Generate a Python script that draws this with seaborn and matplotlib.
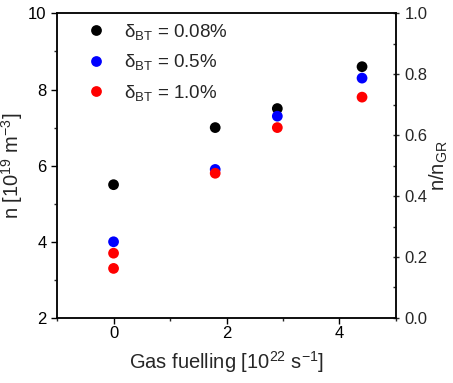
import matplotlib
matplotlib.use("Agg")
import matplotlib.pyplot as plt
import seaborn as sns
import pandas as pd
from matplotlib.ticker import MultipleLocator, FormatStrFormatter

sns.set_style("ticks")
plt.rcParams['font.family'] = ['Liberation Sans', 'DejaVu Sans']
plt.rcParams['mathtext.fontset'] = 'custom'
plt.rcParams['mathtext.rm'] = 'Liberation Sans'
plt.rcParams['mathtext.it'] = 'Liberation Sans:italic'
plt.rcParams['mathtext.bf'] = 'Liberation Sans:bold'

# Data
x_black = [0, 1.8, 2.9, 4.4]
n_black = [5.5, 7.0, 7.5, 8.6]
x_blue = [0, 1.8, 2.9, 4.4]
n_blue = [4.0, 5.9, 7.3, 8.3]
x_red = [0, 0, 1.8, 2.9, 4.4]
n_red = [3.7, 3.3, 5.8, 7.0, 7.8]

labels = ["δ$_{\\mathrm{BT}}$ = 0.08%", "δ$_{\\mathrm{BT}}$ = 0.5%", "δ$_{\\mathrm{BT}}$ = 1.0%"]
colors = ["#000000", "#0000ff", "#ff0000"]

df = pd.concat([
    pd.DataFrame({"x": x_black, "n": n_black, "series": labels[0]}),
    pd.DataFrame({"x": x_blue, "n": n_blue, "series": labels[1]}),
    pd.DataFrame({"x": x_red, "n": n_red, "series": labels[2]}),
], ignore_index=True)

fig = plt.figure(figsize=(4.53, 3.83), dpi=100)
ax = fig.add_axes([0.126, 0.170, 0.748, 0.795])

sns.scatterplot(data=df, x="x", y="n", hue="series", hue_order=labels,
                palette=dict(zip(labels, colors)), s=60, edgecolor="none",
                ax=ax, legend=True, zorder=3)

ax.set_xlim(-1, 5)
ax.set_ylim(2, 10)
ax.xaxis.set_major_locator(MultipleLocator(2))
ax.xaxis.set_minor_locator(MultipleLocator(1))
ax.yaxis.set_major_locator(MultipleLocator(2))
ax.yaxis.set_minor_locator(MultipleLocator(1))
ax.tick_params(which='major', direction='out', length=4, width=1, labelsize=12, colors='black')
ax.tick_params(which='minor', direction='out', length=2.5, width=1)
ax.tick_params(axis='x', pad=2)
for sp in ax.spines.values():
    sp.set_linewidth(1.1)
    sp.set_color('black')

ax.set_xlabel("Gas fuelling [10$^{22}$ s$^{-1}$]", fontsize=14.5, labelpad=6)
ax.set_ylabel("n [10$^{19}$ m$^{-3}$]", fontsize=14.5, labelpad=2)

ax2 = ax.twinx()
ax2.set_ylim(0, 1.0)
ax2.yaxis.set_major_locator(MultipleLocator(0.2))
ax2.yaxis.set_minor_locator(MultipleLocator(0.1))
ax2.yaxis.set_major_formatter(FormatStrFormatter('%.1f'))
ax2.tick_params(which='major', direction='inout', length=5, width=1, labelsize=12)
ax2.tick_params(which='minor', direction='in', length=2.5, width=1)
ax2.set_ylabel("n/n$_{\\mathrm{GR}}$", fontsize=14.5, labelpad=0)
for sp in ax2.spines.values():
    sp.set_linewidth(1.1)

leg = ax.legend(loc='upper left', bbox_to_anchor=(0.02, 1.015), frameon=False,
                fontsize=13.5, handletextpad=0.5, labelspacing=0.55,
                markerscale=1.0, borderaxespad=0.3)
ax.set_zorder(2)
ax.patch.set_visible(False)

fig.savefig("out.png", dpi=100)
